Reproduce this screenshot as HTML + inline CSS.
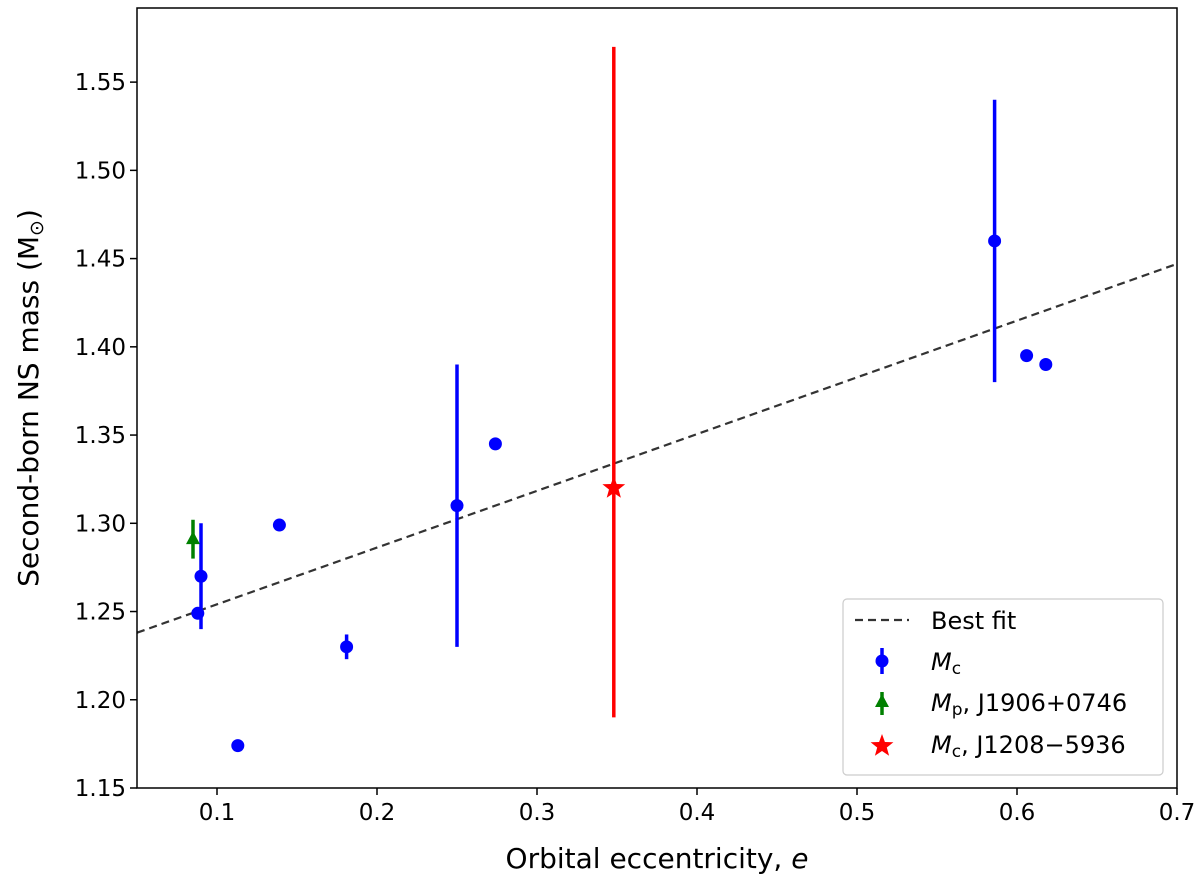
<!DOCTYPE html>
<html><head><meta charset="utf-8"><style>
body{margin:0;background:#fff;}
svg text{font-family:"DejaVu Sans","Liberation Sans",sans-serif;}
</style></head><body>
<svg id="c" width="1200" height="885" xmlns="http://www.w3.org/2000/svg"></svg>
<script>
const xTicks=[0.1,0.2,0.3,0.4,0.5,0.6,0.7];
const yTicks=[1.15,1.20,1.25,1.30,1.35,1.40,1.45,1.50,1.55];
const blueE=[0.088,0.090,0.113,0.139,0.181,0.250,0.274,0.586,0.606,0.618];
const blueM=[1.249,1.270,1.174,1.299,1.230,1.310,1.345,1.460,1.395,1.390];
const blueErr=[0,0.03,0,0,0.007,0.08,0,0.08,0,0];
const greenE=[0.085];const greenM=[1.291];const greenErr=[0.011];
const redE=[0.348];const redM=[1.32];const redLo=[0.13];const redHi=[0.25];
const fitE=[0.05,0.70];const fitM=[1.238,1.447];
const X0=137,X1=1177,Y0=788,Y1=8,xmin=0.05,xmax=0.70,ymin=1.15,ymax=1.592;
const xs=v=>X0+(v-xmin)/(xmax-xmin)*(X1-X0);
const ys=v=>Y0-(v-ymin)/(ymax-ymin)*(Y0-Y1);
const svg=document.getElementById('c');const NS='http://www.w3.org/2000/svg';
function mk(t,a,txt){const e=document.createElementNS(NS,t);for(const k in a)e.setAttribute(k,a[k]);if(txt!=null)e.textContent=txt;svg.appendChild(e);return e;}
let e;
for(const t of xTicks){
e=mk('line',{x1:xs(t),x2:xs(t),y1:Y0,y2:Y0+7,stroke:'#000','stroke-width':1.5});


e=mk('text',{x:xs(t),y:Y0+32,'font-size':23,'text-anchor':'middle'},t.toFixed(1));


}
for(const t of yTicks){
e=mk('line',{x1:X0-7,x2:X0,y1:ys(t),y2:ys(t),stroke:'#000','stroke-width':1.5});


e=mk('text',{x:X0-11,y:ys(t)+8,'font-size':23,'text-anchor':'end'},t.toFixed(2));


}
e=mk('line',{x1:xs(fitE[0]),y1:ys(fitM[0]),x2:xs(fitE[1]),y2:ys(fitM[1]),stroke:'#333','stroke-width':2.2,'stroke-dasharray':'8,5'});


blueE.forEach((v,i)=>{
if(blueErr[i]>0){e=mk('line',{x1:xs(v),x2:xs(v),y1:ys(blueM[i]-blueErr[i]),y2:ys(blueM[i]+blueErr[i]),stroke:'#0000ff','stroke-width':3.5});

}
e=mk('circle',{cx:xs(v),cy:ys(blueM[i]),r:6.5,fill:'#0000ff'});


});
greenE.forEach((v,i)=>{
e=mk('line',{x1:xs(v),x2:xs(v),y1:ys(greenM[i]-greenErr[i]),y2:ys(greenM[i]+greenErr[i]),stroke:'#008000','stroke-width':3.5});


const cx=xs(v),cy=ys(greenM[i]);
e=mk('polygon',{points:`${cx},${cy-8} ${cx-7},${cy+5} ${cx+7},${cy+5}`,fill:'#008000'});


});
function star(cx,cy,R,r){let p=[];for(let k=0;k<10;k++){const a=-Math.PI/2+k*Math.PI/5,rr=k%2?r:R;p.push((cx+rr*Math.cos(a)).toFixed(1)+','+(cy+rr*Math.sin(a)).toFixed(1));}return p.join(' ');}
redE.forEach((v,i)=>{
e=mk('line',{x1:xs(v),x2:xs(v),y1:ys(redM[i]-redLo[i]),y2:ys(redM[i]+redHi[i]),stroke:'#ff0000','stroke-width':3.5});


e=mk('polygon',{points:star(xs(v),ys(redM[i]),12,5),fill:'#ff0000'});


});
e=mk('rect',{x:X0,y:Y1,width:X1-X0,height:Y0-Y1,fill:'none',stroke:'#000','stroke-width':1.5});


e=mk('text',{x:(X0+X1)/2,y:868,'font-size':28,'text-anchor':'middle'},'Orbital eccentricity, ');


const ti=document.createElementNS(NS,'tspan');ti.setAttribute('font-style','italic');ti.textContent='e';e.appendChild(ti);
e=mk('text',{x:0,y:0,'font-size':28,'text-anchor':'middle',transform:`translate(38,${(Y0+Y1)/2}) rotate(-90)`},'Second-born NS mass (M');


const s1=document.createElementNS(NS,'tspan');s1.setAttribute('font-size',19);s1.setAttribute('dy',5);s1.textContent='⊙';e.appendChild(s1);
const s2=document.createElementNS(NS,'tspan');s2.setAttribute('dy',-5);s2.textContent=')';e.appendChild(s2);
// legend
const g=document.createElementNS(NS,'g');svg.appendChild(g);


function gm(t,a,txt){const el=document.createElementNS(NS,t);for(const k in a)el.setAttribute(k,a[k]);if(txt!=null)el.textContent=txt;g.appendChild(el);return el;}
gm('rect',{x:843,y:599,width:320,height:176,rx:4,fill:'#fff',stroke:'#ccc','stroke-width':1.2});
gm('line',{x1:855,x2:909,y1:620,y2:620,stroke:'#333','stroke-width':2.2,'stroke-dasharray':'8,5'});
gm('text',{x:931,y:629,'font-size':24},'Best fit');
gm('line',{x1:882,x2:882,y1:648,y2:674,stroke:'#0000ff','stroke-width':3.5});
gm('circle',{cx:882,cy:661,r:6.5,fill:'#0000ff'});
let t=gm('text',{x:931,y:670,'font-size':24});t.innerHTML='<tspan font-style="italic">M</tspan><tspan font-size="17" dy="4">c</tspan>';
gm('line',{x1:882,x2:882,y1:692,y2:715,stroke:'#008000','stroke-width':3.5});
gm('polygon',{points:'882,694 875,707 889,707',fill:'#008000'});
t=gm('text',{x:931,y:711,'font-size':24});t.innerHTML='<tspan font-style="italic">M</tspan><tspan font-size="17" dy="4">p</tspan><tspan dy="-4">, J1906+0746</tspan>';
gm('polygon',{points:star(882,746,12,5),fill:'#ff0000'});
t=gm('text',{x:931,y:753,'font-size':24});t.innerHTML='<tspan font-style="italic">M</tspan><tspan font-size="17" dy="4">c</tspan><tspan dy="-4">, J1208−5936</tspan>';
</script>
</body></html>
